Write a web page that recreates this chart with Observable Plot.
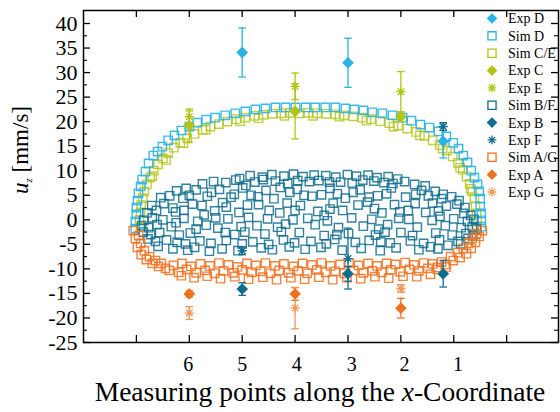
<!DOCTYPE html>
<html><head><meta charset="utf-8">
<script src="https://cdn.jsdelivr.net/npm/d3@7"></script>
<script src="https://cdn.jsdelivr.net/npm/@observablehq/plot@0.6"></script>
<style>
body{margin:0;background:#fff;}
#chart{position:relative;width:560px;height:412px;}
</style></head><body><div id="chart"></div>
<script>
// ---------- data (x in mm along the x-coordinate, y = u_z in mm/s) ----------
const xTickPos = [0, 10, 20, 30, 40, 50, 60, 70];
const xLabelPos = [9.8, 20, 30.3, 40.7, 50.7, 60.8];
const xLabels = ["6", "5", "4", "3", "2", "1"];
const yTicks = [-25, -20, -15, -10, -5, 0, 5, 10, 15, 20, 25, 30, 35, 40];
const yMinor = [-22.5, -17.5, -12.5, -7.5, -2.5, 2.5, 7.5, 12.5, 17.5, 22.5, 27.5, 32.5, 37.5];

// experiments: [x, value, error]
const expD = [[20, 34.1, 5], [40, 32, 5], [58, 16, 3.4]];
const expC = [[10, 19.2, 3.4], [30, 22.1, 5.6], [50, 21.0, 1]];
const expE = [[10, 21.0, 1.2], [30, 27.2, 2.7], [50, 26.1, 4.1]];
const expB = [[20, -14.1, 1.3], [40, -11.0, 1.5], [58, -11.0, 2.7]];
const expF = [[58, 19.0, 0.8], [40, -7.9, 6.2], [20, -6.3, 0.8]];
const expA = [[10, -15.1, 0.6], [30, -15.1, 1.3], [50, -18.0, 2.0]];
const expG = [[10, -19.0, 1.3], [30, -18.0, 4.2], [50, -14.0, 0.8]];

// simulations: [x, value]
const simD = [[-0.2,-1.8],[-0.2,-0.3],[0,1.1],[0,2.5],[0.2,3.9],[0.4,5.4],[0.8,6.8],[1.1,8.2],[1.7,9.8],[2.3,11.5],[3.2,13.1],[4.0,13.9],[4.9,14.9],[6.0,16.2],[7.2,17.2],[8.5,18.2],[10.0,19.0],[11.5,19.8],[13.2,20.4],[14.9,20.8],[16.8,21.3],[18.7,21.7],[20.6,22.1],[22.5,22.5],[24.4,22.7],[26.3,22.9],[28.2,22.9],[30.1,22.9],[32.0,22.9],[33.8,22.9],[35.7,22.9],[37.6,22.9],[39.5,22.7],[41.2,22.5],[42.9,22.3],[44.6,21.9],[46.5,21.7],[48.4,21.3],[50.3,20.8],[52.0,20.2],[53.7,19.4],[55.4,18.8],[57.1,18.0],[58.6,17.0],[59.9,15.7],[60.9,14.5],[61.8,13.1],[62.6,11.7],[63.3,10.0],[63.9,8.6],[64.5,7.2],[64.8,5.8],[65.0,4.3],[65.0,2.7],[65.2,1.3],[65.2,-0.1],[65.2,-1.4]];

const simCE = [[0.8,-1.5],[0.6,0.0],[0.8,1.5],[0.9,3.0],[1.2,4.4],[1.5,5.8],[2.0,7.2],[2.6,8.6],[3.3,10.0],[4.1,11.3],[5.0,12.5],[6.0,13.6],[7.1,14.7],[8.3,15.7],[9.6,16.6],[11.0,17.5],[12.5,18.3],[14.0,19.0],[15.6,19.5],[17.2,20.0],[18.9,20.5],[20.6,20.8],[22.3,21.2],[24.0,21.4],[25.7,21.6],[27.4,21.7],[29.1,21.8],[30.8,21.7],[32.5,21.8],[34.2,21.7],[35.9,21.6],[37.6,21.5],[39.3,21.3],[41.0,21.1],[42.7,20.8],[44.4,20.5],[46.1,20.1],[47.8,19.7],[49.5,19.2],[51.2,18.6],[52.9,17.9],[54.5,17.1],[56.0,16.2],[57.4,15.2],[58.7,14.1],[59.8,12.9],[60.8,11.6],[61.7,10.2],[62.4,8.8],[63.0,7.3],[63.5,5.8],[63.9,4.3],[64.1,2.8],[64.3,1.3],[64.4,-0.2],[64.4,-1.5],
 [3.0,8.9],[5.6,12.2],[8.9,15.6],[13.1,18.4],[19.6,20.1],[23.1,20.7],[28.0,21.2],[33.4,21.2],[38.4,21.0],[43.5,20.2],[48.6,19.0],[53.6,17.2],[57.9,14.5],[61.2,10.6],[63.2,6.3]];

const simBF = [
 [19.5,8.4],[21.5,9.0],[23.8,8.7],[25.6,9.2],[27.9,8.9],[29.7,9.3],[31.5,8.8],[33.6,9.1],[35.8,9.0],[37.7,8.7],[39.9,9.2],[41.6,8.9],[43.8,9.1],[45.5,8.6],[47.6,8.8],[49.4,8.3],
 [12.5,7.3],[14.6,7.8],[16.9,7.6],[18.8,8.1],[22.4,7.7],[26.3,7.9],[28.6,7.4],[32.7,7.8],[34.5,8.0],[38.6,7.7],[40.8,7.5],[44.9,7.9],[46.8,7.6],[50.7,7.8],[52.6,7.2],[54.6,6.9],
 [7.6,5.9],[9.4,6.4],[11.3,6.1],[15.7,6.2],[20.1,6.5],[24.5,6.0],[27.2,6.6],[30.4,6.2],[36.6,6.4],[42.3,6.1],[48.2,6.5],[53.9,6.0],[56.5,5.8],[58.0,5.2],
 [4.6,4.5],[6.3,4.9],[8.8,4.4],[13.4,4.8],[17.9,4.6],[21.7,5.0],[26.0,4.3],[33.2,4.8],[35.0,5.1],[39.5,4.4],[45.6,4.9],[50.9,4.6],[55.2,4.9],[57.7,4.3],[59.6,4.7],[61.0,3.9],
 [2.9,2.9],[5.2,3.3],[10.6,3.2],[12.4,2.9],[16.3,3.5],[23.1,3.1],[28.5,3.4],[31.0,2.9],[37.2,3.4],[41.9,3.0],[43.7,3.6],[48.8,3.1],[52.7,3.3],[58.6,2.8],[60.6,3.2],[62.1,2.5],
 [2.0,1.4],[3.8,1.9],[7.4,1.6],[14.8,1.8],[19.4,1.5],[25.1,1.9],[27.1,1.4],[34.3,1.7],[39.0,1.9],[46.4,1.4],[51.4,1.9],[54.7,1.5],[57.1,1.8],[61.9,1.3],[63.2,0.9],
 [1.4,-0.1],[3.0,0.4],[5.0,0.0],[9.0,0.3],[11.6,-0.3],[17.3,0.2],[21.2,0.5],[29.6,0.0],[32.4,0.3],[36.1,-0.2],[40.7,0.4],[44.5,0.1],[49.6,0.3],[55.9,-0.1],[60.0,0.2],[62.6,-0.3],[63.8,0.1],
 [1.0,-1.2],[2.3,-1.6],[3.9,-1.0],[6.6,-1.4],[13.2,-1.1],[15.4,-1.7],[22.8,-1.2],[26.7,-1.5],[33.8,-1.0],[38.2,-1.6],[42.9,-1.3],[47.5,-1.0],[53.1,-1.5],[58.4,-1.2],[61.4,-1.6],[63.5,-1.4],[64.3,-1.9],
 [1.3,-2.5],[2.7,-3.0],[4.4,-2.6],[8.1,-3.1],[10.2,-2.7],[18.6,-3.0],[20.5,-2.5],[24.3,-2.9],[30.8,-2.6],[35.5,-3.2],[40.1,-2.8],[45.2,-3.1],[50.0,-2.6],[52.2,-3.2],[56.6,-2.7],[59.7,-3.1],[62.3,-2.8],[63.6,-3.3],
 [2.2,-3.9],[3.6,-4.4],[5.7,-4.1],[7.7,-4.6],[12.0,-4.3],[14.1,-4.8],[17.0,-4.2],[22.0,-4.5],[27.8,-4.1],[29.9,-4.7],[33.0,-4.4],[37.5,-4.0],[41.4,-4.6],[44.0,-4.2],[48.0,-4.7],[51.8,-4.3],[54.3,-4.8],[57.3,-4.1],[60.8,-4.4],[62.7,-3.8],
 [4.1,-5.4],[6.9,-5.9],[9.7,-6.2],[11.0,-5.6],[13.8,-6.4],[16.2,-5.9],[19.2,-6.3],[23.6,-5.7],[25.7,-6.1],[28.9,-5.5],[31.9,-6.0],[34.9,-5.6],[38.9,-6.2],[42.5,-5.8],[46.1,-6.3],[49.1,-5.7],[53.4,-6.1],[55.6,-5.5],[58.9,-5.2],[61.3,-4.9],
 [20.7,7.0],[24.0,8.2],[30.5,8.0],[36.5,7.7],[42.8,8.1],[48.5,7.4],[10.0,5.0],[14.2,5.6],[18.5,5.2],[23.0,4.7],[29.0,5.6],[31.7,5.0],[38.0,5.3],[41.0,5.6],[44.0,4.6],[47.3,5.3],[52.8,5.2],
 [6.9,2.4],[9.0,1.9],[12.8,1.0],[17.0,2.6],[21.0,3.0],[30.0,1.9],[36.6,2.2],[45.0,2.3],[49.8,1.6],[56.0,3.4],[7.5,-0.6],[15.0,0.4],[19.8,-1.4],[24.8,0.2],[28.2,-0.9],[35.5,0.9],
 [45.8,-1.9],[51.5,0.1],[57.4,0.7],[11.3,-1.9],[16.8,-2.6],[27.4,-2.4],[37.9,-3.0],[47.0,-2.5],[9.3,-4.9],[20.0,-4.9],[25.0,-5.0],[35.9,-4.9],[46.2,-4.5],[57.0,-5.9]];

const simAG = [
 [-0.6,-2.2],[-0.2,-3.8],[0.2,-5.6],[0.9,-7.1],[1.9,-8.1],[3.0,-8.9],[4.2,-9.5],[5.5,-9.9],
 [0.4,-3.2],[0.8,-4.8],[1.5,-6.3],[2.5,-7.5],[3.6,-8.3],[4.7,-8.9],
 [7.0,-9.3],[8.6,-8.9],[10.3,-9.5],[12.1,-9.0],[13.9,-9.4],[15.6,-8.8],[17.4,-9.2],[19.1,-9.6],[20.9,-8.9],[22.6,-9.3],[24.4,-8.8],[26.2,-9.4],[27.9,-9.0],[29.7,-9.5],[31.4,-8.9],[33.2,-9.2],[35.0,-8.8],[36.7,-9.4],[38.5,-9.1],[40.2,-8.8],[42.0,-9.3],[43.8,-8.9],[45.5,-9.4],[47.3,-8.9],[49.0,-9.1],[50.8,-8.7],[52.5,-9.2],[54.3,-8.8],[56.0,-9.0],[57.7,-8.6],
 [6.2,-10.3],[8.0,-10.7],[9.5,-10.1],[11.3,-10.8],[13.0,-10.3],[14.8,-10.9],[16.5,-10.4],[18.3,-10.8],[20.0,-10.2],[21.8,-10.7],[23.5,-10.5],[25.3,-10.9],[27.0,-10.3],[28.8,-10.8],[30.6,-10.4],[32.3,-10.9],[34.1,-10.2],[35.8,-10.7],[37.6,-10.5],[39.3,-10.9],[41.1,-10.3],[42.9,-10.8],[44.6,-10.4],[46.4,-10.7],[48.1,-10.2],[49.9,-10.6],[51.6,-10.1],[53.4,-10.4],[55.1,-9.9],[56.9,-10.1],[58.6,-9.6],
 [8.5,-11.4],[10.9,-11.8],[13.4,-11.5],[15.9,-12.0],[18.6,-11.6],[21.2,-12.1],[23.9,-11.7],[26.5,-12.2],[29.2,-11.8],[31.8,-12.1],[34.5,-11.7],[37.1,-12.2],[39.8,-11.8],[42.4,-12.0],[45.1,-11.6],[47.7,-11.9],[50.4,-11.5],[53.0,-11.6],[55.6,-11.1],
 [56.9,-9.7],[58.4,-9.1],[59.9,-8.3],[61.2,-7.7],[62.4,-6.9],[63.3,-5.8],[64.1,-4.6],[64.8,-3.4],[65.4,-2.2],
 [59.4,-7.5],[60.7,-6.7],[61.8,-5.8],[62.8,-4.8],[63.5,-3.8],[64.3,-2.8]];

// ---------- styles ----------
const cBlue = "#2ab3e3", cGreen = "#b2c414", cTeal = "#0f6d8f", cOrange = "#f0701f", cOrangeLight = "#f69558";
const serif = "Liberation Serif, Times New Roman, serif";

const asterisk = {draw(ctx, size) {
  const r = Math.sqrt(size / Math.PI), d = r * 0.7071;
  ctx.moveTo(-r, 0); ctx.lineTo(r, 0); ctx.moveTo(0, -r); ctx.lineTo(0, r);
  ctx.moveTo(-d, -d); ctx.lineTo(d, d); ctx.moveTo(-d, d); ctx.lineTo(d, -d);
}};
const cap = {draw(ctx, size) {
  const r = Math.sqrt(size / Math.PI);
  ctx.moveTo(-r, 0); ctx.lineTo(r, 0);
}};

function simMarks(data, color, op) {
  return Plot.dot(data, {x: d => d[0], y: d => d[1], symbol: "square", r: 4.7, stroke: color, strokeWidth: 1.4, strokeOpacity: op, fill: "none"});
}
function errMarks(data, color) {
  return [
    Plot.ruleX(data, {x: d => d[0], y1: d => d[1] - d[2], y2: d => d[1] + d[2], stroke: color, strokeWidth: 1.3}),
    Plot.dot(data, {x: d => d[0], y: d => d[1] + d[2], symbol: cap, r: 3.8, stroke: color, strokeWidth: 1.3}),
    Plot.dot(data, {x: d => d[0], y: d => d[1] - d[2], symbol: cap, r: 3.8, stroke: color, strokeWidth: 1.3})
  ];
}
function diamondMarks(data, color) {
  return Plot.dot(data, {x: d => d[0], y: d => d[1], symbol: "diamond2", r: 4.8, fill: color, stroke: color, strokeWidth: 1});
}
function starMarks(data, color) {
  return Plot.dot(data, {x: d => d[0], y: d => d[1], symbol: asterisk, r: 4.6, stroke: color, strokeWidth: 1.3, fill: "none"});
}

const W = 560, H = 412, mL = 83, mR = 2, mT = 10, mB = 70;
const fw = W - mL - mR, fh = H - mT - mB;

const plot = Plot.plot({
  width: W, height: H,
  marginLeft: mL, marginRight: mR, marginTop: mT, marginBottom: mB,
  style: {fontFamily: serif, fontSize: "22px", background: "white", overflow: "visible"},
  x: {domain: [-10, 79.8], axis: null},
  y: {domain: [-25, 42.65], axis: null},
  marks: [
    simMarks(simCE, cGreen, 0.8),
    simMarks(simD, cBlue, 0.9),
    simMarks(simBF, cTeal, 0.85),
    simMarks(simAG, cOrange, 0.85),
    errMarks(expD, cBlue), errMarks(expC, cGreen), errMarks(expE, cGreen),
    errMarks(expB, cTeal), errMarks(expF, cTeal), errMarks(expA, cOrange), errMarks(expG, cOrangeLight),
    diamondMarks(expD, cBlue), diamondMarks(expC, cGreen), starMarks(expE, cGreen),
    diamondMarks(expB, cTeal), starMarks(expF, cTeal), diamondMarks(expA, cOrange), starMarks(expG, cOrangeLight),
    // inward ticks
    Plot.tickY(yTicks, {y: d => d, insetRight: fw - 7, stroke: "black", strokeWidth: 1.3}),
    Plot.tickY(yTicks, {y: d => d, insetLeft: fw - 7, stroke: "black", strokeWidth: 1.3}),
    Plot.tickY(yMinor, {y: d => d, insetRight: fw - 4, stroke: "black", strokeWidth: 1.1}),
    Plot.tickY(yMinor, {y: d => d, insetLeft: fw - 4, stroke: "black", strokeWidth: 1.1}),
    Plot.tickX(xTickPos, {x: d => d, insetTop: fh - 7, stroke: "black", strokeWidth: 1.3}),
    Plot.tickX(xTickPos, {x: d => d, insetBottom: fh - 7, stroke: "black", strokeWidth: 1.3}),
    Plot.frame({stroke: "black", strokeWidth: 1.5}),
    // tick labels
    Plot.text(yTicks, {y: d => d, text: d => String(d), frameAnchor: "left", dx: -6, textAnchor: "end", fontSize: 22, fill: "black"}),
    Plot.text(xLabelPos, {x: d => d, text: (d, i) => xLabels[i], frameAnchor: "bottom", dy: 22, textAnchor: "middle", lineAnchor: "middle", fontSize: 20, fill: "black"})
  ]
});

const svg = d3.select(plot);
// axis titles
const xt = svg.append("text").attr("x", 320).attr("y", 401).attr("text-anchor", "middle")
  .attr("font-family", serif).attr("font-size", 27.5).attr("fill", "black");
xt.append("tspan").text("Measuring points along the ");
xt.append("tspan").attr("font-style", "italic").text("x");
xt.append("tspan").text("-Coordinate");

const yt = svg.append("text").attr("transform", "translate(28,150) rotate(-90)").attr("text-anchor", "middle")
  .attr("font-family", serif).attr("font-size", 23).attr("fill", "black");
yt.append("tspan").attr("font-style", "italic").text("u");
yt.append("tspan").attr("font-style", "italic").attr("font-size", 11).attr("dy", 4).text("z");
yt.append("tspan").attr("dy", -4).text(" [mm/s]");

// legend
const legendItems = [
  {label: "Exp D", color: cBlue, kind: "diamond"},
  {label: "Sim D", color: cBlue, kind: "square"},
  {label: "Sim C/E", color: cGreen, kind: "square"},
  {label: "Exp C", color: cGreen, kind: "diamond"},
  {label: "Exp E", color: cGreen, kind: "star"},
  {label: "Sim B/F", color: cTeal, kind: "square"},
  {label: "Exp B", color: cTeal, kind: "diamond"},
  {label: "Exp F", color: cTeal, kind: "star"},
  {label: "Sim A/G", color: cOrange, kind: "square"},
  {label: "Exp A", color: cOrange, kind: "diamond"},
  {label: "Exp G", color: cOrangeLight, kind: "star"}
];
const lg = svg.append("g").attr("font-family", serif).attr("font-size", 14).attr("text-anchor", "start");
legendItems.forEach((it, i) => {
  const g = lg.append("g").attr("transform", `translate(492,${18.5 + i * 17.35})`);
  if (it.kind === "diamond") g.append("path").attr("d", d3.symbol(d3.symbolDiamond2, Math.PI * 4.8 * 4.8)()).attr("fill", it.color);
  if (it.kind === "square") g.append("path").attr("d", d3.symbol(d3.symbolSquare, Math.PI * 4.6 * 4.6)()).attr("fill", "none").attr("stroke", it.color).attr("stroke-width", 1.3);
  if (it.kind === "star") g.append("path").attr("d", d3.symbol(asterisk, Math.PI * 4.4 * 4.4)()).attr("fill", "none").attr("stroke", it.color).attr("stroke-width", 1.3);
  g.append("text").attr("x", 16).attr("y", 0).attr("dy", "0.35em").attr("text-anchor", "start").attr("fill", "black").text(it.label);
});

document.getElementById("chart").appendChild(plot);
</script></body></html>
